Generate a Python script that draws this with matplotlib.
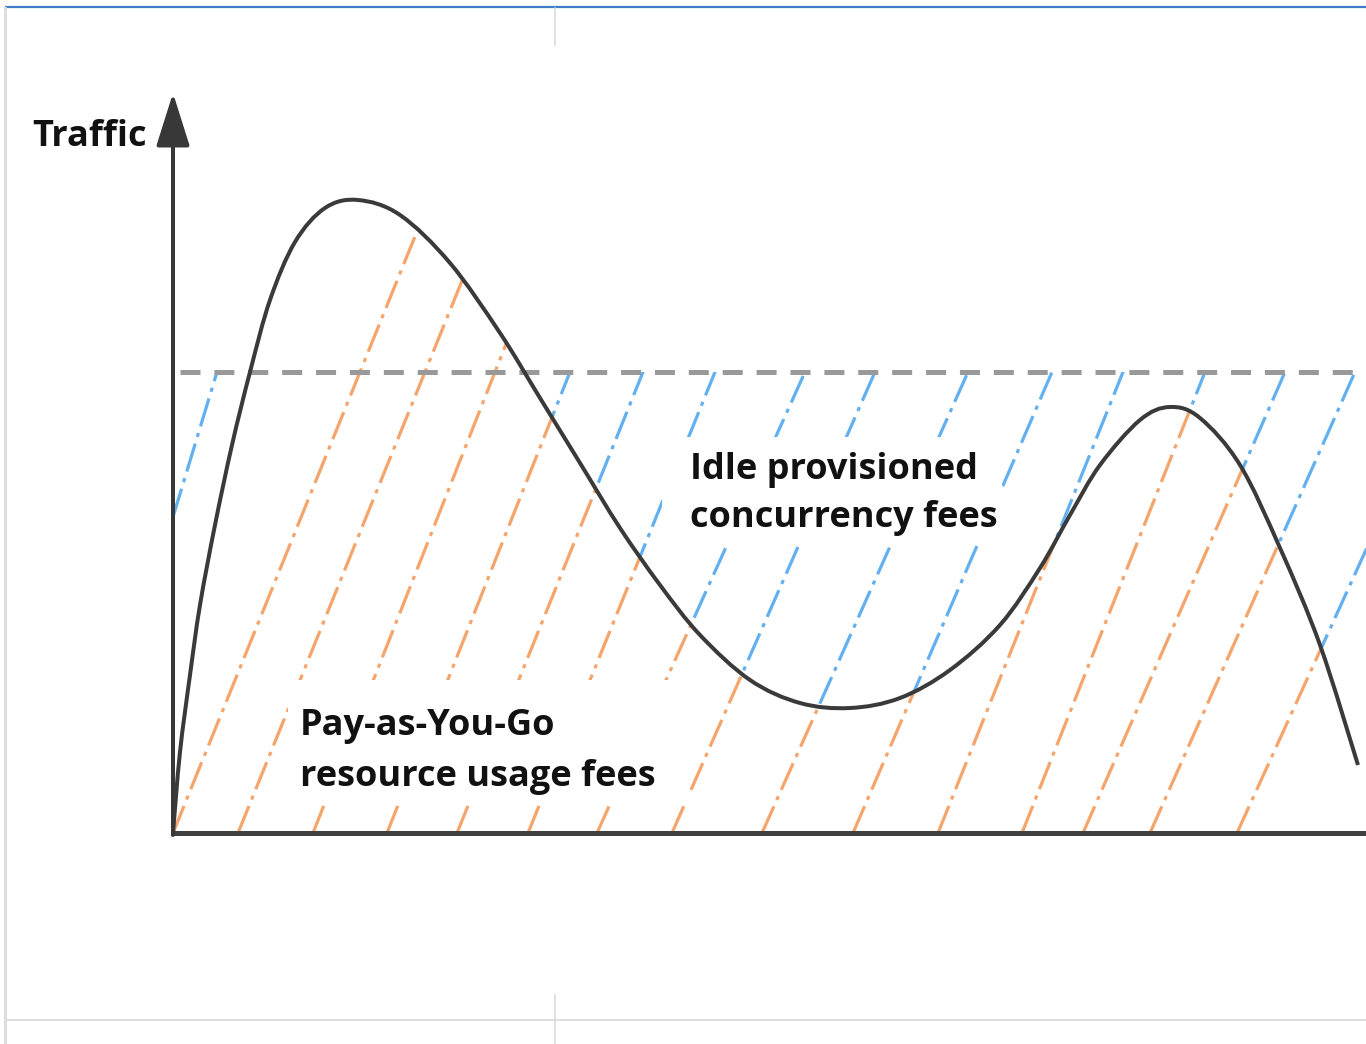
import numpy as np
import matplotlib.pyplot as plt
from matplotlib.patches import PathPatch, Rectangle
from matplotlib.path import Path

# everything is laid out in the pixel space of the original diagram
W, H = 1366, 1044
PX = 0.72  # points per pixel at dpi 100

# traffic curve (x, y in picture pixels)
curve_x = [173, 180, 190, 200, 215, 232, 250, 270, 295, 325, 358,
           400, 450, 500, 540, 580, 620, 660, 700, 750, 800, 850,
           900, 950, 1000, 1040, 1070, 1100, 1140, 1170, 1200, 1240,
           1280, 1320, 1358]
curve_y = [833, 752, 675, 605, 525, 445, 372, 300, 242, 208, 200,
           215, 263, 333, 398, 463, 528, 585, 635, 680, 703, 708,
           698, 670, 625, 568, 515, 465, 420, 407, 418, 465,
           548, 645, 765]

base_y = 833        # x axis
provision_y = 372   # provisioned concurrency level
axis_x = 173

# hatch lines: where each one meets the x axis and the provisioned line
hatch_base = [77, 173, 238, 313, 387, 457, 528, 597, 672, 762, 853, 938, 1022, 1083, 1150, 1237]
hatch_prov = [217, 360, 425, 495, 570, 643, 715, 805, 875, 968, 1052, 1123, 1205, 1285, 1355, 1447]


def smooth_path(xs, ys):
    # Catmull-Rom through the points, handed to matplotlib as cubic Bezier segments
    p = np.column_stack([xs, ys]).astype(float)
    pts = [p[0]]
    codes = [Path.MOVETO]
    for i in range(len(p) - 1):
        p0 = p[i - 1] if i > 0 else p[i]
        p3 = p[i + 2] if i + 2 < len(p) else p[i + 1]
        pts += [p[i] + (p[i + 1] - p0) / 6, p[i + 1] - (p3 - p[i]) / 6, p[i + 1]]
        codes += [Path.CURVE4] * 3
    return pts, codes


plt.rcParams['lines.scale_dashes'] = False
fig = plt.figure(figsize=(W / 100, H / 100), dpi=100)
ax = fig.add_axes([0, 0, 1, 1])
ax.set_xlim(0, W)
ax.set_ylim(H, 0)
ax.axis('off')

# page frame of the screenshot
ax.plot([5, W], [7, 7], color='#3f7cc8', lw=2.2 * PX, solid_capstyle='butt')
ax.plot([5, 5], [8, H], color='#dcdcdc', lw=3 * PX)
ax.plot([5, W], [1020, 1020], color='#dedede', lw=2 * PX)
ax.plot([555, 555], [8, 45], color='#d6d6d6', lw=1.5 * PX)
ax.plot([555, 555], [995, H], color='#d6d6d6', lw=1.5 * PX)

cpts, ccodes = smooth_path(curve_x, curve_y)
under_path = Path(cpts + [(curve_x[-1], base_y), (axis_x, base_y), cpts[0]],
                  ccodes + [Path.LINETO, Path.LINETO, Path.CLOSEPOLY])
under_patch = PathPatch(under_path, facecolor='white', edgecolor='none', zorder=2)
ax.add_patch(under_patch)
band = Rectangle((axis_x, provision_y), W - axis_x, base_y - provision_y,
                 facecolor='none', edgecolor='none')
ax.add_patch(band)

dash_pat = (0, (21, 5, 3, 5))
for xb, xp in zip(hatch_base, hatch_prov):
    ys = np.array([base_y, 100])
    xs = xb + (base_y - ys) / (base_y - provision_y) * (xp - xb)
    blue, = ax.plot(xs, ys, color='#62b0f0', lw=3.2 * PX, linestyle=dash_pat, zorder=1)
    blue.set_clip_path(band)
    orange, = ax.plot(xs, ys, color='#f5a46c', lw=3.2 * PX, linestyle=dash_pat, zorder=3)
    orange.set_clip_path(under_patch)

# provisioned level
ax.plot([180, W], [provision_y, provision_y], color='#999999', lw=5 * PX,
        linestyle=(0, (14.4, 10)), zorder=4)

# traffic curve
ax.add_patch(PathPatch(Path(cpts, ccodes), facecolor='none', edgecolor='#3a3a3a',
                       lw=4 * PX, zorder=6))

# axes
ax.plot([axis_x, W], [base_y, base_y], color='#404040', lw=5 * PX, zorder=6)
ax.annotate('', xy=(axis_x, 93), xytext=(axis_x, base_y + 2),
            arrowprops=dict(arrowstyle='-|>,head_length=1.65,head_width=0.52',
                            mutation_scale=20, color='#383838', lw=4 * PX,
                            shrinkA=0, shrinkB=0), zorder=6)

# label boxes hide the hatching
ax.add_patch(Rectangle((288, 680), 402, 125, facecolor='white', edgecolor='none', zorder=5))
ax.add_patch(Rectangle((662, 437), 340, 108, facecolor='white', edgecolor='none', zorder=5))

font = dict(family=['Open Sans', 'DejaVu Sans'], fontsize=26, fontweight='bold',
            color='#111111', va='baseline', zorder=7)
ax.text(32, 146, 'Traffic', **font)
ax.text(690, 479, 'Idle provisioned', **font)
ax.text(690, 527, 'concurrency fees', **font)
ax.text(300, 735, 'Pay-as-You-Go', **font)
ax.text(300, 786, 'resource usage fees', **font)

fig.savefig('out.png', dpi=100)
